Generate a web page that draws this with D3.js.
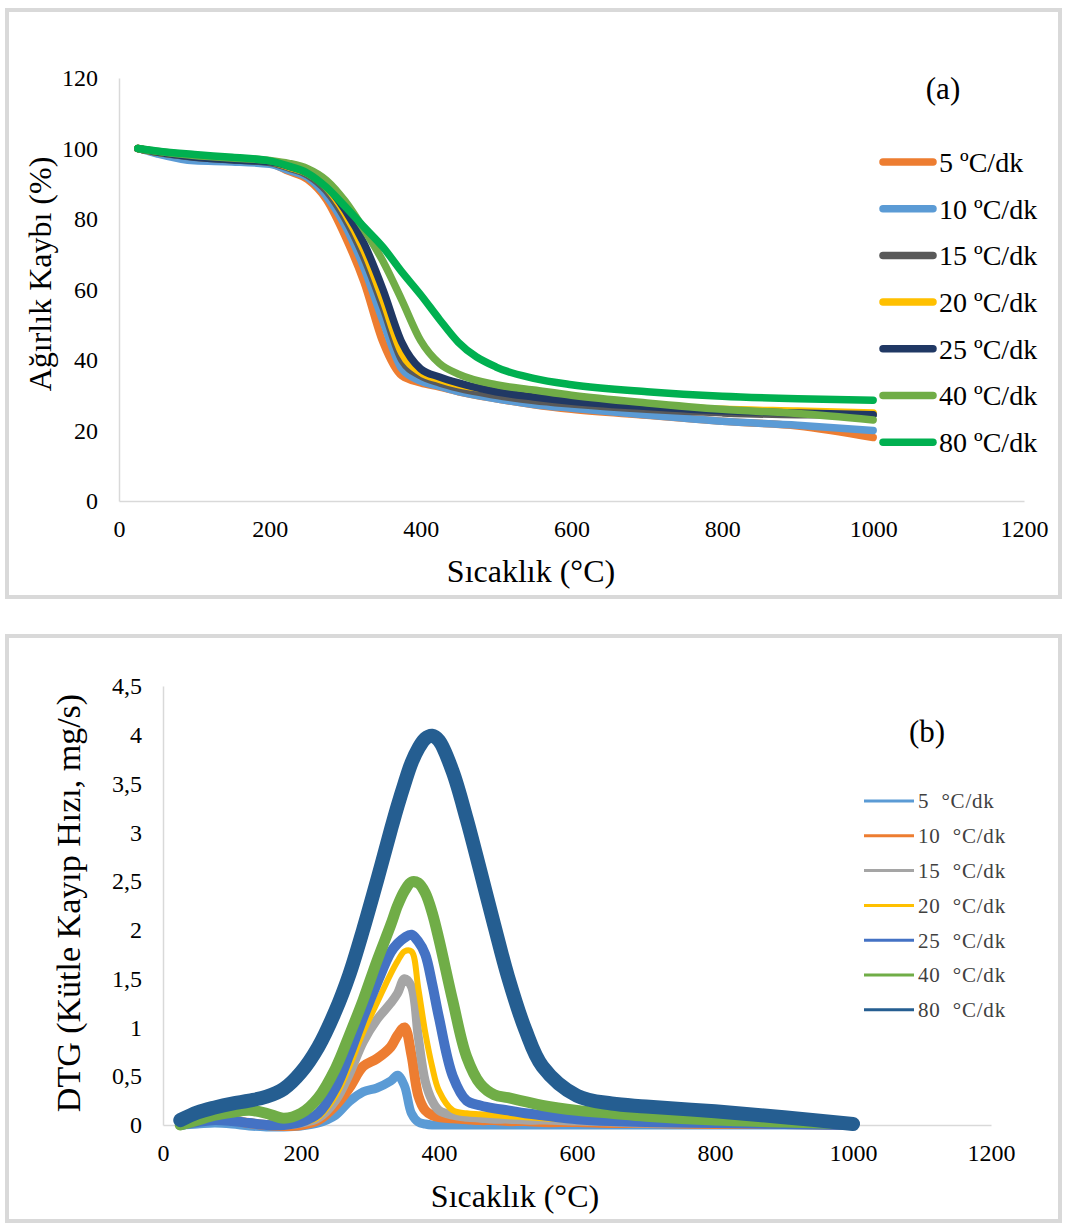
<!DOCTYPE html>
<html lang="tr">
<head>
<meta charset="UTF-8">
<title>TG / DTG</title>
<script src="https://d3js.org/d3.v7.min.js"></script>
<style>
  body { margin: 0; background: #fff; }
  text { font-family: "Liberation Serif", "Times New Roman", serif; }
</style>
</head>
<body>
<script>

// ---- data: (a) TG curves ----
var tempA = [25, 50, 100, 150, 200, 225, 250, 275, 300, 325, 350, 375, 400, 425, 450, 500, 550, 600, 700, 800, 900, 1000];
var tgLabels = ["5 ºC/dk", "10 ºC/dk", "15 ºC/dk", "20 ºC/dk", "25 ºC/dk", "40 ºC/dk", "80 ºC/dk"];
var tg5  = [100, 99, 97.5, 96.8, 95.8, 93.5, 91.2, 85.5, 75, 62, 45, 35.5, 33.5, 32.3, 31, 29, 27.3, 26, 24.3, 22.6, 21.3, 18];
var tg10 = [100, 98.5, 96.5, 96.2, 95.5, 93.8, 91.8, 86.5, 78, 66, 51, 37.5, 34, 32.5, 31, 29, 27.4, 26.3, 24.4, 22.6, 21.5, 20];
var tg15 = [100, 99, 97.5, 96.8, 96, 94.5, 92.5, 88, 80, 69, 55, 40, 35.5, 33.5, 32, 30, 28.5, 27.5, 26, 25, 24.5, 24.5];
var tg20 = [100, 99, 97.8, 97, 96.3, 94.8, 93, 89, 81.5, 71, 57, 42, 36.5, 34.5, 33, 31.5, 30, 28.8, 27.2, 26, 25.5, 25];
var tg25 = [100, 99, 97.6, 96.8, 96.2, 95, 93.2, 89.5, 82.5, 73, 60, 45, 37.5, 35.2, 33.5, 31, 29.5, 28.3, 26.8, 25.6, 25, 24.5];
var tg40 = [100, 99.2, 98, 97.3, 96.6, 95.8, 94.3, 91, 85, 77, 68, 57, 45.5, 39, 36, 33, 31.5, 30, 27.8, 26, 24.8, 23];
var tg80 = [100, 99.3, 98.3, 97.5, 96.5, 95, 93, 89, 83.5, 77.7, 72, 65, 58.5, 51.5, 45, 38, 34.8, 33, 31, 29.7, 29, 28.6];
var tgColors = ["#ED7D31", "#5B9BD5", "#595959", "#FFC000", "#203864", "#70AD47", "#00B050"];
var xTicksA = [0, 200, 400, 600, 800, 1000, 1200];
var yTicksA = [0, 20, 40, 60, 80, 100, 120];

// ---- data: (b) DTG curves ----
var tempB = [25, 50, 75, 100, 125, 150, 175, 200, 225, 250, 270, 290, 310, 330, 340, 350, 360, 370, 380, 390, 400, 420, 440, 460, 480, 500, 525, 550, 600, 650, 700, 800, 900, 1000];
var dtgLabels = ["5 °C/dk", "10 °C/dk", "15 °C/dk", "20 °C/dk", "25 °C/dk", "40 °C/dk", "80 °C/dk"];
var dtg5  = [0, 0.01, 0.02, 0.01, -0.01, -0.02, -0.02, -0.01, 0.02, 0.1, 0.24, 0.34, 0.38, 0.45, 0.51, 0.4, 0.12, 0.03, 0.01, 0, 0, 0, 0, 0, 0, 0, 0, 0, 0, 0, 0, 0, 0, 0];
var dtg10 = [0, 0.04, 0.07, 0.05, 0.02, 0, -0.01, 0, 0.05, 0.2, 0.38, 0.6, 0.68, 0.8, 0.92, 1.0, 0.72, 0.3, 0.15, 0.1, 0.08, 0.07, 0.06, 0.05, 0.05, 0.04, 0.04, 0.03, 0.03, 0.02, 0.02, 0.01, 0.01, 0];
var dtg15 = [0, 0.03, 0.06, 0.05, 0.02, 0, 0, 0.02, 0.07, 0.25, 0.52, 0.85, 1.08, 1.25, 1.35, 1.5, 1.42, 0.9, 0.45, 0.25, 0.15, 0.1, 0.08, 0.07, 0.06, 0.06, 0.05, 0.05, 0.04, 0.03, 0.02, 0.02, 0.01, 0];
var dtg20 = [0, 0.03, 0.05, 0.04, 0.02, 0, 0, 0.02, 0.08, 0.3, 0.6, 0.95, 1.25, 1.55, 1.68, 1.78, 1.78, 1.4, 0.95, 0.6, 0.35, 0.15, 0.12, 0.11, 0.1, 0.09, 0.08, 0.07, 0.05, 0.04, 0.03, 0.02, 0.02, 0.02];
var dtg25 = [0, 0.03, 0.05, 0.04, 0.02, 0, 0, 0.03, 0.12, 0.38, 0.72, 1.1, 1.45, 1.77, 1.86, 1.92, 1.95, 1.88, 1.75, 1.45, 1.1, 0.5, 0.25, 0.2, 0.17, 0.15, 0.12, 0.1, 0.06, 0.04, 0.03, 0.02, 0.01, 0];
var dtg40 = [0, 0.05, 0.1, 0.13, 0.15, 0.12, 0.07, 0.12, 0.28, 0.58, 0.92, 1.28, 1.68, 2.05, 2.25, 2.4, 2.49, 2.48, 2.38, 2.18, 1.9, 1.27, 0.7, 0.42, 0.31, 0.28, 0.24, 0.2, 0.15, 0.12, 0.09, 0.05, 0.03, 0.01];
var dtg80 = [0.05, 0.13, 0.18, 0.22, 0.25, 0.29, 0.37, 0.54, 0.8, 1.17, 1.54, 2.0, 2.5, 3.02, 3.27, 3.5, 3.71, 3.86, 3.96, 3.99, 3.94, 3.62, 3.14, 2.6, 2.05, 1.52, 0.98, 0.6, 0.3, 0.22, 0.19, 0.14, 0.08, 0.01];
var dtgColors = ["#5B9BD5", "#ED7D31", "#A5A5A5", "#FFC000", "#4472C4", "#70AD47", "#255E91"];
var dtgWidths = [9, 10, 9, 6, 10, 11, 14];
var xTicksB = [0, 200, 400, 600, 800, 1000, 1200];
var yTicksB = [0, 0.5, 1, 1.5, 2, 2.5, 3, 3.5, 4, 4.5];

var svg = d3.select("body").append("svg")
    .attr("width", 1066)
    .attr("height", 1226);

// panel frames
svg.append("rect").attr("x", 7).attr("y", 10).attr("width", 1053).attr("height", 587)
    .attr("fill", "#fff").attr("stroke", "#d9d9d9").attr("stroke-width", 4);
svg.append("rect").attr("x", 7).attr("y", 636).attr("width", 1053).attr("height", 585)
    .attr("fill", "#fff").attr("stroke", "#d9d9d9").attr("stroke-width", 4);

function drawAxes(x, y, xTicks, yTicks, yFormat) {
  var gx = svg.append("g")
      .attr("transform", "translate(0," + y.range()[0] + ")")
      .call(d3.axisBottom(x).tickValues(xTicks).tickSize(0).tickPadding(19).tickFormat(d3.format("d")));
  var gy = svg.append("g")
      .attr("transform", "translate(" + x.range()[0] + ",0)")
      .call(d3.axisLeft(y).tickValues(yTicks).tickSize(0).tickPadding(21).tickFormat(yFormat));
  [gx, gy].forEach(function(g) {
    g.select(".domain").attr("stroke", "#d9d9d9").attr("stroke-width", 1.5);
    g.selectAll("text")
      .attr("font-family", "Liberation Serif, serif")
      .attr("font-size", 24)
      .attr("fill", "#000");
  });
}

// ---------- (a) ----------
var xA = d3.scaleLinear().domain([0, 1200]).range([119, 1024]);
var yA = d3.scaleLinear().domain([0, 120]).range([501, 78]);
drawAxes(xA, yA, xTicksA, yTicksA, d3.format("d"));

var tgData = [tg5, tg10, tg15, tg20, tg25, tg40, tg80];
var lineA = d3.line()
    .x(function(d, i) { return xA(tempA[i]); })
    .y(function(d) { return yA(d); })
    .curve(d3.curveMonotoneX);

svg.append("g").selectAll("path")
  .data(tgData)
  .enter().append("path")
    .attr("d", lineA)
    .attr("fill", "none")
    .attr("stroke", function(d, i) { return tgColors[i]; })
    .attr("stroke-width", 7.5)
    .attr("stroke-linecap", "round")
    .attr("stroke-linejoin", "round");

// legend (a)
var legA = svg.append("g").selectAll("g")
  .data(tgLabels)
  .enter().append("g")
    .attr("transform", function(d, i) { return "translate(0," + (162 + i * 46.7) + ")"; });
legA.append("line")
    .attr("x1", 883).attr("x2", 933)
    .attr("stroke", function(d, i) { return tgColors[i]; })
    .attr("stroke-width", 7.5)
    .attr("stroke-linecap", "round");
legA.append("text")
    .attr("x", 939).attr("dy", "0.35em")
    .attr("font-size", 28)
    .text(function(d) { return d; });

svg.append("text").attr("x", 943).attr("y", 99).attr("text-anchor", "middle")
    .attr("font-size", 31).text("(a)");
svg.append("text").attr("x", 531).attr("y", 582).attr("text-anchor", "middle")
    .attr("font-size", 32).text("Sıcaklık (°C)");
svg.append("text").attr("transform", "translate(51,274) rotate(-90)").attr("text-anchor", "middle")
    .attr("font-size", 32).text("Ağırlık Kaybı (%)");

// ---------- (b) ----------
var xB = d3.scaleLinear().domain([0, 1200]).range([163, 991]);
var yB = d3.scaleLinear().domain([0, 4.5]).range([1125, 686]);
drawAxes(xB, yB, xTicksB, yTicksB, function(d) { return String(d).replace(".", ","); });

var dtgData = [dtg5, dtg10, dtg15, dtg20, dtg25, dtg40, dtg80];
var lineB = d3.line()
    .x(function(d, i) { return xB(tempB[i]); })
    .y(function(d) { return yB(d); })
    .curve(d3.curveCatmullRom.alpha(0.5));

svg.append("g").selectAll("path")
  .data(dtgData)
  .enter().append("path")
    .attr("d", lineB)
    .attr("fill", "none")
    .attr("stroke", function(d, i) { return dtgColors[i]; })
    .attr("stroke-width", function(d, i) { return dtgWidths[i]; })
    .attr("stroke-linecap", "round")
    .attr("stroke-linejoin", "round");

// legend (b)
var legB = svg.append("g").selectAll("g")
  .data(dtgLabels)
  .enter().append("g")
    .attr("transform", function(d, i) { return "translate(0," + (801 + i * 34.8) + ")"; });
legB.append("line")
    .attr("x1", 864).attr("x2", 914)
    .attr("stroke", function(d, i) { return dtgColors[i]; })
    .attr("stroke-width", 3);
legB.append("text")
    .attr("x", 918).attr("dy", "0.35em")
    .attr("font-size", 21)
    .attr("letter-spacing", 0.8)
    .attr("fill", "#404040")
    .text(function(d) { return d.replace(" ", "\u00A0\u00A0"); });

svg.append("text").attr("x", 927).attr("y", 742).attr("text-anchor", "middle")
    .attr("font-size", 31).text("(b)");
svg.append("text").attr("x", 515).attr("y", 1207).attr("text-anchor", "middle")
    .attr("font-size", 32).text("Sıcaklık (°C)");
svg.append("text").attr("transform", "translate(80,903) rotate(-90)").attr("text-anchor", "middle")
    .attr("font-size", 34).text("DTG (Kütle Kayıp Hızı, mg/s)");

</script>
</body>
</html>
